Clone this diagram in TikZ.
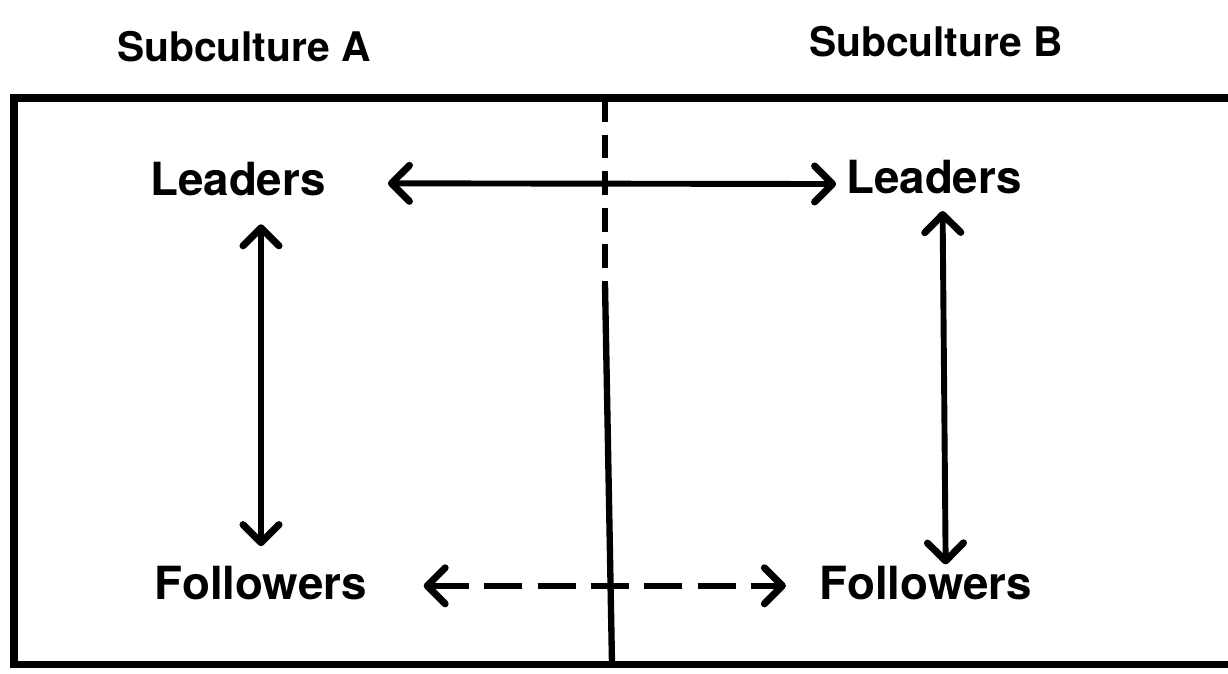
\documentclass[tikz,border=0pt]{standalone}
\usepackage{fontspec}
\setmainfont{TeX Gyre Heros}
\usetikzlibrary{arrows.meta}
\tikzset{
  lbl/.style={font=\bfseries\fontsize{32.5}{36}\selectfont, inner sep=0pt},
  ttl/.style={font=\bfseries\fontsize{29}{34}\selectfont, inner sep=0pt},
  barb/.tip={Straight Barb[length=4.5mm,width=9mm,line width=5pt,round]},
  link/.style={line width=4.2pt, barb-barb},
}
\begin{document}
\begin{tikzpicture}[x=0.025cm, y=-0.025cm]
      \useasboundingbox (0,0) rectangle (1228,673);
      % frame, open on the right
      \draw[line width=5pt] (1240,98) -- (14,98) -- (14,664) -- (1240,664);
      \draw[line width=4.5pt, dash pattern=on 17pt off 9pt] (605,98) -- (605,284);
      \draw[line width=4.5pt] (605,284) -- (612,664);

      \foreach \n/\t/\x/\y in {ttlA/Subculture A/244/47, ttlB/Subculture B/936/42}{
        \node[ttl] (\n) at (\x,\y) {\t};
      }
      \foreach \n/\t/\x/\y in {leadA/Leaders/238/179, leadB/Leaders/934/177, follA/Followers/261/583, follB/Followers/926/583}{
        \node[lbl] (\n) at (\x,\y) {\t};
      }

      \draw[link, shorten <=44pt, shorten >=7pt] ([yshift=-3]leadA.east) -- ([yshift=-5]leadB.west);
      \draw[link, shorten <=20pt, shorten >=14pt] (leadA.south -| follA) -- (follA.north);
      \draw[link, shorten <=12pt, shorten >=1pt] ([xshift=6]leadB.south) -- ([xshift=14]follB.north);
      \draw[link, dash pattern=on 27pt off 11pt, shorten <=40pt, shorten >=24pt] ([yshift=-2]follA.east) -- ([yshift=-2]follB.west);
    \end{tikzpicture}
\end{document}
